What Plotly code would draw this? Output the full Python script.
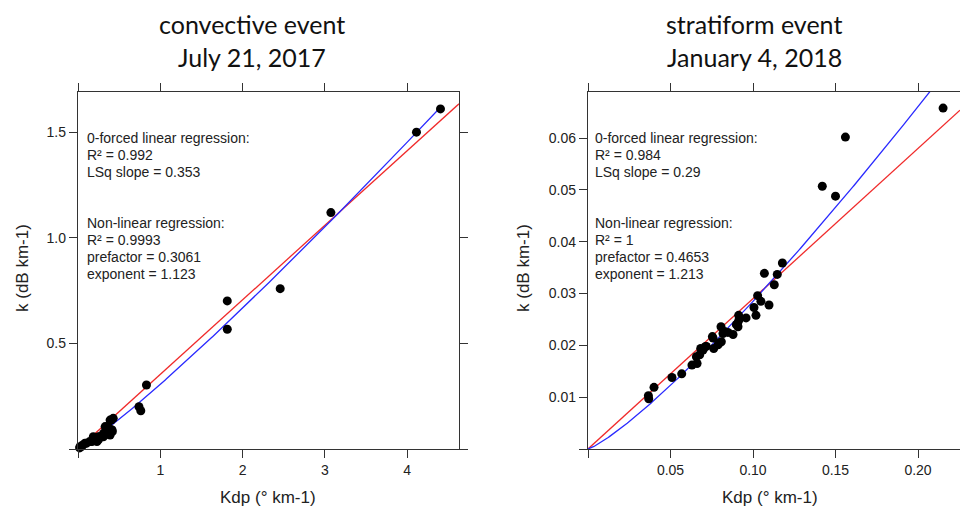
import numpy as np
import plotly.graph_objects as go

# ---------------- data ----------------
# convective event, July 21, 2017
conv_kdp = [4.405, 4.113, 3.073, 2.457, 1.814, 1.814, 0.832, 0.741, 0.763,
            0.428, 0.405, 0.368, 0.344, 0.417, 0.413, 0.308, 0.304, 0.263, 0.186,
            0.247, 0.223, 0.170, 0.142, 0.101, 0.085, 0.057, 0.040, 0.024, 0.020,
            0.390, 0.330, 0.310, 0.390, 0.250, 0.190, 0.230, 0.410]
conv_k = [1.610, 1.500, 1.119, 0.759, 0.701, 0.567, 0.303, 0.200, 0.181,
          0.145, 0.137, 0.106, 0.100, 0.082, 0.090, 0.058, 0.066, 0.058, 0.058,
          0.043, 0.048, 0.035, 0.035, 0.027, 0.027, 0.019, 0.011, 0.011, 0.005,
          0.137, 0.106, 0.074, 0.066, 0.058, 0.050, 0.035, 0.090]
conv_slope = 0.353
conv_prefactor = 0.3061
conv_exponent = 1.123

# stratiform event, January 4, 2018
strat_kdp = [0.2152, 0.156, 0.142, 0.150, 0.1178, 0.1069, 0.1147, 0.1129, 0.1028,
             0.1006, 0.1048, 0.1097, 0.1018, 0.0958, 0.0913, 0.0909, 0.0907, 0.0879,
             0.0848, 0.0806, 0.0818, 0.0808, 0.0788, 0.0762, 0.0754, 0.0717, 0.0697,
             0.0683, 0.0677, 0.0657, 0.0661, 0.0630, 0.0568, 0.0509, 0.0400, 0.0366,
             0.0368, 0.0713, 0.0758, 0.0794, 0.0828, 0.0899, 0.0915]
strat_k = [0.0658, 0.0602, 0.0507, 0.0488, 0.0359, 0.0339, 0.0337, 0.0317, 0.0296,
           0.0273, 0.0285, 0.0278, 0.0258, 0.0253, 0.0258, 0.0236, 0.0243, 0.0221,
           0.0225, 0.0236, 0.0223, 0.0207, 0.0201, 0.0194, 0.0217, 0.0198, 0.0191,
           0.0194, 0.0182, 0.0178, 0.0165, 0.0162, 0.0145, 0.0138, 0.0119, 0.0103,
           0.0097, 0.0198, 0.0214, 0.0204, 0.0227, 0.0240, 0.0249]
strat_slope = 0.29
strat_prefactor = 0.4653
strat_exponent = 1.213

titles = [["convective event", "July 21, 2017"], ["stratiform event", "January 4, 2018"]]
stats = [
    ["0-forced linear regression:", "R² = 0.992", "LSq slope = 0.353", "",
     "Non-linear regression:", "R² = 0.9993", "prefactor = 0.3061", "exponent = 1.123"],
    ["0-forced linear regression:", "R² = 0.984", "LSq slope = 0.29", "",
     "Non-linear regression:", "R² = 1", "prefactor = 0.4653", "exponent = 1.213"],
]
x_title = "Kdp (° km-1)"
y_title = "k (dB km-1)"

conv_xticks = [0, 1, 2, 3, 4]
conv_xtext = ["", "1", "2", "3", "4"]
conv_yticks = [0, 0.5, 1.0, 1.5]
conv_ytext = ["", "0.5", "1.0", "1.5"]
strat_xticks = [0, 0.05, 0.10, 0.15, 0.20]
strat_xtext = ["", "0.05", "0.10", "0.15", "0.20"]
strat_yticks = [0, 0.01, 0.02, 0.03, 0.04, 0.05, 0.06]
strat_ytext = ["", "0.01", "0.02", "0.03", "0.04", "0.05", "0.06"]

# ---------------- layout geometry ----------------
W, H = 960, 513
def PX(p): return p / W
def PY(p): return 1 - p / H

conv_xrange = [0, 4.63]
conv_yrange = [0, 1.69]
strat_xrange = [0, 0.22545]
strat_yrange = [0, 0.0689]

fig = go.Figure()

RED = "#f02a2a"
BLUE = "#2a2aff"

def add_panel(kdp, k, slope, pref, expo, xrange, xa, ya):
    # linear fit (full range)
    xl = np.array(xrange)
    fig.add_trace(go.Scatter(x=xl, y=slope * xl, mode="lines",
                             line=dict(color=RED, width=1.3), xaxis=xa, yaxis=ya,
                             showlegend=False, hoverinfo="skip"))
    # power-law fit (0 .. max data)
    xc = np.linspace(0, max(kdp), 300)
    fig.add_trace(go.Scatter(x=xc, y=pref * xc ** expo, mode="lines",
                             line=dict(color=BLUE, width=1.3), xaxis=xa, yaxis=ya,
                             showlegend=False, hoverinfo="skip"))
    fig.add_trace(go.Scatter(x=kdp, y=k, mode="markers",
                             marker=dict(color="black", size=9, line=dict(width=0)),
                             xaxis=xa, yaxis=ya, showlegend=False, cliponaxis=False))

add_panel(conv_kdp, conv_k, conv_slope, conv_prefactor, conv_exponent,
          conv_xrange, "x", "y")
add_panel(strat_kdp, strat_k, strat_slope, strat_prefactor, strat_exponent,
          strat_xrange, "x2", "y2")

axis_common = dict(showline=True, linecolor="#333", linewidth=1.3, ticks="outside",
                   ticklen=8, tickwidth=1.3, tickcolor="#333", showgrid=False,
                   zeroline=False, fixedrange=True,
                   tickfont=dict(family="Liberation Sans, Arial, sans-serif", size=14, color="#222"))

ydom = [PY(449), PY(92)]
fig.update_layout(
    width=W, height=H, margin=dict(l=0, r=0, t=0, b=0),
    paper_bgcolor="white", plot_bgcolor="white",
    xaxis=dict(axis_common, domain=[PX(78), PX(459)], range=conv_xrange,
               tickvals=conv_xticks, ticktext=conv_xtext, mirror="ticks", anchor="y"),
    yaxis=dict(axis_common, domain=ydom, range=conv_yrange,
               tickvals=conv_yticks, ticktext=conv_ytext, mirror="ticks", anchor="x"),
    xaxis2=dict(axis_common, domain=[PX(588), 1.0], range=strat_xrange,
                tickvals=strat_xticks, ticktext=strat_xtext, mirror="ticks", anchor="y2"),
    yaxis2=dict(axis_common, domain=ydom, range=strat_yrange,
                tickvals=strat_yticks, ticktext=strat_ytext, mirror=False, anchor="x2"),
)

ann = []
title_font = dict(family="Lato, Open Sans, sans-serif", size=25, color="#111")
for cx, lines in zip([252, 754], titles):
    for cy, t in zip([24, 57], lines):
        ann.append(dict(text=t, x=PX(cx), y=PY(cy), xref="paper", yref="paper",
                        xanchor="center", yanchor="middle", showarrow=False, font=title_font))

stat_font = dict(family="Liberation Sans, Arial, sans-serif", size=14, color="#222")
line_y = [138, 155, 172, 189, 223, 240, 257, 274]
for lx, lines in zip([85, 593], stats):
    for cy, t in zip(line_y, lines):
        if not t:
            continue
        ann.append(dict(text=t, x=PX(lx), y=PY(cy), xref="paper", yref="paper",
                        xanchor="left", yanchor="middle", showarrow=False, font=stat_font))

ax_font = dict(family="Liberation Sans, Arial, sans-serif", size=17, color="#222")
for cx in [268, 770]:
    ann.append(dict(text=x_title, x=PX(cx), y=PY(497), xref="paper", yref="paper",
                    xanchor="center", yanchor="middle", showarrow=False, font=ax_font))
for cx in [22, 523]:
    ann.append(dict(text=y_title, x=PX(cx), y=PY(268), xref="paper", yref="paper",
                    xanchor="center", yanchor="middle", showarrow=False, font=ax_font,
                    textangle=-90))

fig.update_layout(annotations=ann)
fig.write_html("out.html")
